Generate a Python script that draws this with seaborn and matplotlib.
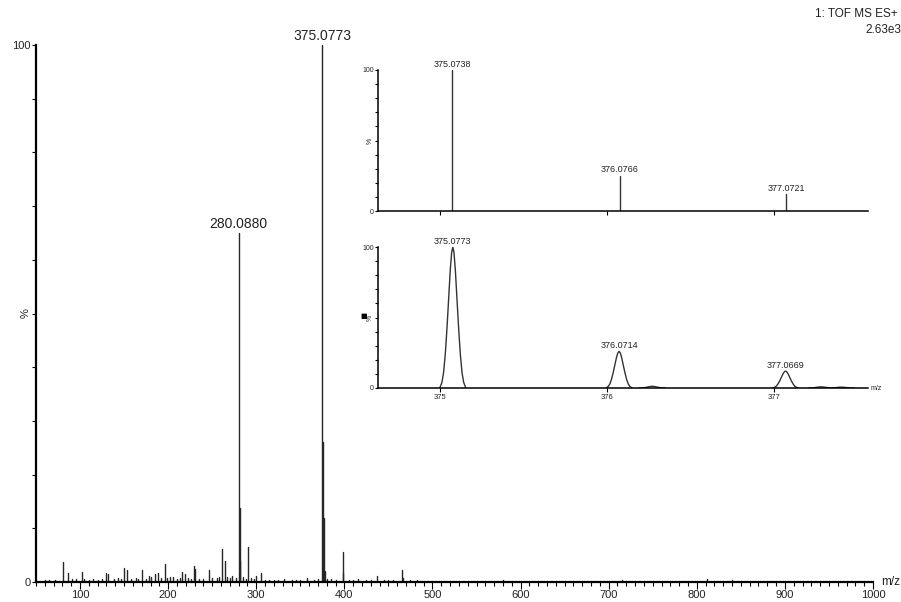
import numpy as np
import pandas as pd
import matplotlib
matplotlib.use("Agg")
import matplotlib.pyplot as plt
import seaborn as sns

sns.set_style("ticks")
plt.rcParams['font.family'] = ['Liberation Sans', 'DejaVu Sans']

# ---------------- data ----------------
# main spectrum (centroid sticks): m/z and relative intensity (%)
main_mz = [280.0880, 281.09, 282.09, 375.0773, 376.08, 377.07, 378.07,
           81, 86, 102, 129, 132, 150, 153, 170, 178, 185, 188, 196, 202, 206,
           216, 219, 229, 230, 246, 261, 264, 273, 290.6, 300, 305, 332, 358,
           398, 399, 415, 437, 465, 467, 580, 715, 812, 840,
           60, 65, 72, 91, 95, 105, 110, 115, 120, 125, 138, 143, 147, 158, 163,
           166, 175, 181, 192, 199, 210, 213, 222, 226, 235, 240, 250, 255, 258,
           267, 270, 277, 285, 288, 294, 297, 310, 315, 320, 325, 340, 345, 350,
           365, 370, 380, 385, 390, 405, 410, 425, 430, 445, 450, 455, 475, 483]
main_int = [65, 13.8, 4, 100, 26, 12, 2,
            3.7, 1.7, 1.9, 1.7, 1.5, 2.7, 2.3, 2.3, 1.2, 1.5, 1.7, 3.4, 0.9, 0.9,
            1.9, 1.5, 2.9, 2.5, 2.3, 6.2, 3.9, 1.2, 6.5, 1.2, 1.7, 0.6, 0.7,
            5.6, 1.7, 0.5, 1.1, 2.2, 0.8, 0.3, 0.3, 0.6, 0.3,
            0.3, 0.4, 0.3, 0.6, 0.5, 0.6, 0.4, 0.5, 0.4, 0.6, 0.5, 0.7, 0.6, 0.5, 0.8,
            0.6, 0.5, 0.9, 0.7, 0.8, 0.5, 0.7, 0.8, 0.6, 0.5, 0.6, 0.8, 0.7, 1.0,
            0.9, 0.7, 0.8, 0.9, 0.6, 0.7, 0.5, 0.4, 0.4, 0.3, 0.3, 0.3, 0.4, 0.3,
            0.4, 0.6, 0.6, 0.5, 0.4, 0.4, 0.3, 0.3, 0.3, 0.4, 0.3, 0.3, 0.3, 0.3]
main_labels = ["280.0880", "375.0773"]
main_label_mz = [280.0880, 375.0773]
main_label_int = [65, 100]
main_xticks = [100, 200, 300, 400, 500, 600, 700, 800, 900, 1000]

# inset 1: theoretical isotope pattern (sticks)
theo_mz = [375.0738, 376.0766, 377.0721]
theo_int = [100, 25, 11.8]
theo_labels = ["375.0738", "376.0766", "377.0721"]

# inset 2: measured isotope pattern (profile peaks)
meas_mz = [375.0773, 376.0714, 377.0669, 376.27, 377.28, 377.40]
meas_int = [100, 26, 12, 1.2, 0.8, 0.6]
meas_labels = ["375.0773", "376.0714", "377.0669"]
# peak profile (offset in m/z, relative height)
prof_off = [-0.078, -0.065, -0.055, -0.045, -0.035, -0.025, -0.015, -0.007, 0.0,
            0.007, 0.015, 0.025, 0.035, 0.045, 0.055, 0.065, 0.078]
prof_rel = [0.0, 0.04, 0.11, 0.24, 0.42, 0.63, 0.84, 0.96, 1.0,
            0.96, 0.84, 0.63, 0.42, 0.24, 0.11, 0.04, 0.0]
inset_xticks = [375, 376, 377]

# -------------- helpers --------------
def sticks(mz, inten):
    rows = []
    for i, (m, h) in enumerate(zip(mz, inten)):
        rows.append((m, 0.0, i))
        rows.append((m, h, i))
    return pd.DataFrame(rows, columns=["mz", "int", "peak"])

def profiles(mz, inten):
    rows = []
    for i, (m, h) in enumerate(zip(mz, inten)):
        for o, r in zip(prof_off, prof_rel):
            rows.append((m + o, h * r, i))
    return pd.DataFrame(rows, columns=["mz", "int", "peak"])

W, H = 901, 602
fig = plt.figure(figsize=(W / 100, H / 100), dpi=100)
txtc = "#222222"

def px_axes(x0, x1, y_top, y_bot):
    return fig.add_axes([x0 / W, 1 - y_bot / H, (x1 - x0) / W, (y_bot - y_top) / H])

def style(ax, lw, size, ticklen):
    sns.despine(ax=ax)
    for s in ("left", "bottom"):
        ax.spines[s].set_linewidth(lw)
        ax.spines[s].set_color("black")
    ax.tick_params(axis="both", which="major", labelsize=size, length=ticklen,
                   width=0.8, colors="black", labelcolor=txtc, pad=1)
    ax.tick_params(axis="both", which="minor", length=ticklen * 0.6, width=0.8, colors="black")
    ax.set_xlabel("")
    ax.set_ylabel("")

ylabs = ["0", "", "", "", "", "%", "", "", "", "", "100"]

# -------------- main spectrum --------------
ax = px_axes(36, 873, 45, 582)
df = sticks(main_mz, main_int)
sns.lineplot(data=df, x="mz", y="int", units="peak", estimator=None, ax=ax,
             color="#262626", lw=1.0, legend=False)
ax.set_xlim(50, 1000)
ax.set_ylim(0, 100)
ax.set_xticks(main_xticks)
ax.set_xticklabels([str(v) for v in main_xticks])
ax.set_xticks(np.arange(50, 1001, 10), minor=True)
ax.set_yticks(np.arange(0, 101, 10))
ax.set_yticklabels(ylabs)
style(ax, 1.6, 8, 5)
ax.tick_params(axis="y", which="major", length=3)
for t in ax.get_yticklabels():
    if t.get_text() == "%":
        t.set_rotation(90)
        t.set_va("center")
for lab, m, h in zip(main_labels, main_label_mz, main_label_int):
    ax.annotate(lab, (m, h), xytext=(0, 1.5), textcoords="offset points",
                ha="center", va="bottom", fontsize=10, color=txtc, annotation_clip=False)
fig.text(881 / W, 1 - 582 / H, "m/z", fontsize=8.5, color=txtc, ha="left", va="center")
fig.text(898 / W, 1 - 14 / H, "1: TOF MS ES+", fontsize=8.5, color=txtc, ha="right", va="center")
fig.text(901 / W, 1 - 30 / H, "2.63e3", fontsize=8.5, color=txtc, ha="right", va="center")

# -------------- inset 1 (sticks) --------------
a1 = px_axes(378, 868, 70, 211)
df1 = sticks(theo_mz, theo_int)
sns.lineplot(data=df1, x="mz", y="int", units="peak", estimator=None, ax=a1,
             color="#333333", lw=1.0, legend=False)
a1.set_xlim(374.63, 377.56)
a1.set_ylim(0, 100)
a1.set_xticks(inset_xticks)
a1.set_xticklabels([])
a1.set_yticks(np.arange(0, 101, 10))
a1.set_yticklabels(ylabs)
style(a1, 1.1, 5, 3)
a1.tick_params(axis="y", length=2)
for t in a1.get_yticklabels():
    if t.get_text() == "%":
        t.set_rotation(90)
        t.set_va("center")
for lab, m, h in zip(theo_labels, theo_mz, theo_int):
    a1.annotate(lab, (m, h), xytext=(0, 1), textcoords="offset points",
                ha="center", va="bottom", fontsize=6.5, color=txtc, annotation_clip=False)
a1.patch.set_alpha(0)

# -------------- inset 2 (profiles) --------------
a2 = px_axes(378, 868, 247, 388)
df2 = profiles(meas_mz, meas_int)
sns.lineplot(data=df2, x="mz", y="int", units="peak", estimator=None, ax=a2,
             color="#333333", lw=1.0, legend=False)
a2.set_xlim(374.63, 377.56)
a2.set_ylim(0, 100)
a2.set_xticks(inset_xticks)
a2.set_xticklabels([str(v) for v in inset_xticks])
a2.set_yticks(np.arange(0, 101, 10))
a2.set_yticklabels(ylabs)
style(a2, 1.1, 5, 3)
a2.tick_params(axis="y", length=2)
a2.tick_params(axis="x", labelsize=5.5)
for t in a2.get_yticklabels():
    if t.get_text() == "%":
        t.set_rotation(90)
        t.set_va("center")
for lab, m, h in zip(meas_labels, meas_mz, meas_int):
    a2.annotate(lab, (m, h), xytext=(0, 1), textcoords="offset points",
                ha="center", va="bottom", fontsize=6.5, color=txtc, annotation_clip=False)
fig.text(364 / W, 1 - 316 / H, "\u25A0", fontsize=5, color="black", ha="center", va="center",
         family=["DejaVu Sans"])
fig.text(871 / W, 1 - 389 / H, "m/z", fontsize=5, color=txtc, ha="left", va="center")
a2.patch.set_alpha(0)

fig.savefig("out.png", dpi=100, facecolor="white")
